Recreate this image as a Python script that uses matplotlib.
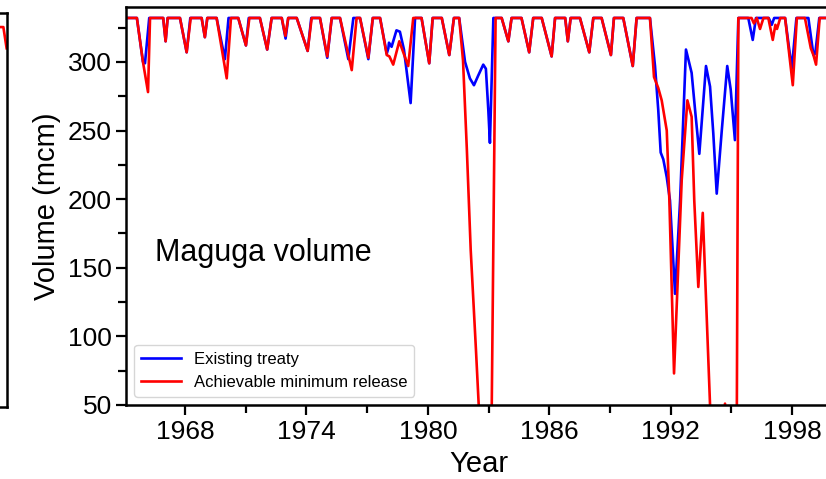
import matplotlib
matplotlib.use("Agg")
import matplotlib.pyplot as plt
from matplotlib.ticker import MultipleLocator

plt.rcParams['font.family'] = ['Liberation Sans', 'DejaVu Sans']

# Existing treaty (blue), volume in mcm
et_year = [1965.08, 1965.62, 1965.92, 1966.02, 1966.23,
           1966.92, 1967.04, 1967.14, 1967.75, 1968.08, 1968.26,
           1968.82, 1968.98, 1969.10, 1969.56, 1969.97, 1970.15,
           1970.63, 1971.01, 1971.15, 1971.70, 1972.06, 1972.28,
           1972.78, 1972.97, 1973.10, 1973.52, 1974.06, 1974.24,
           1974.67, 1975.03, 1975.25, 1975.66, 1976.07, 1976.32,
           1976.65, 1977.06, 1977.28, 1977.64, 1977.97, 1978.05,
           1978.08, 1978.21, 1978.45, 1978.62, 1978.82, 1979.15, 1979.37,
           1979.69, 1980.07, 1980.24, 1980.69, 1981.06, 1981.29,
           1981.55, 1981.84, 1982.08, 1982.28, 1982.49, 1982.74,
           1982.87, 1982.99, 1983.07, 1983.24,
           1983.65, 1983.98, 1984.14, 1984.63, 1985.01, 1985.21,
           1985.63, 1986.12, 1986.29, 1986.79, 1986.92, 1987.06,
           1987.52, 1987.98, 1988.18, 1988.59, 1989.05, 1989.20,
           1989.66, 1990.13, 1990.32,
           1990.98, 1991.23, 1991.39, 1991.51, 1991.64, 1991.81,
           1991.97, 1992.22, 1992.47, 1992.76, 1993.04, 1993.21,
           1993.42, 1993.75, 1993.95, 1994.11, 1994.28, 1994.53,
           1994.80, 1994.97, 1995.18, 1995.35,
           1995.84, 1996.06, 1996.22, 1996.85, 1997.00, 1997.12,
           1997.66, 1997.99, 1998.22, 1998.81, 1999.06, 1999.15,
           1999.35, 2000.00]
et_vol = [332, 332, 300, 299, 332,
          332, 315, 332, 332, 307, 332,
          332, 318, 332, 332, 302, 332,
          332, 312, 332, 332, 309, 332,
          332, 317, 332, 332, 308, 332,
          332, 303, 332, 332, 302, 332,
          332, 302, 332, 332, 306, 310,
          314, 311, 323, 322, 309, 270, 332,
          332, 299, 332, 332, 305, 332,
          332, 300, 288, 283, 290, 298,
          295, 265, 241, 332,
          332, 315, 332, 332, 307, 332,
          332, 304, 332, 332, 315, 332,
          332, 307, 332, 332, 305, 332,
          332, 297, 332,
          332, 297, 265, 234, 229, 216,
          199, 131, 199, 309, 292, 265,
          233, 297, 282, 248, 204, 250,
          297, 280, 243, 332,
          332, 316, 332, 332, 327, 332,
          332, 295, 332, 332, 305, 306,
          332, 332]

# Achievable minimum release (red)
amr_year = [1965.08, 1965.62, 1965.92, 1966.17, 1966.27,
            1966.92, 1967.04, 1967.14, 1967.75, 1968.08, 1968.28,
            1968.82, 1968.98, 1969.10, 1969.56, 1970.06, 1970.27,
            1970.63, 1971.01, 1971.18, 1971.70, 1972.06, 1972.28,
            1972.78, 1972.96, 1973.10, 1973.52, 1974.06, 1974.26,
            1974.67, 1975.03, 1975.25, 1975.66, 1976.24, 1976.48,
            1976.65, 1977.06, 1977.28, 1977.64, 1977.97, 1978.10,
            1978.29, 1978.59, 1979.03, 1979.28,
            1979.69, 1980.07, 1980.24, 1980.69, 1981.06, 1981.29,
            1981.55, 1981.74, 1981.93, 1982.12, 1982.38, 1982.55,
            1982.75, 1983.14, 1983.35,
            1983.65, 1983.98, 1984.14, 1984.63, 1985.01, 1985.21,
            1985.63, 1986.12, 1986.29, 1986.79, 1986.92, 1987.06,
            1987.52, 1987.98, 1988.18, 1988.59, 1989.05, 1989.20,
            1989.66, 1990.13, 1990.32,
            1990.98, 1991.18, 1991.39, 1991.56, 1991.81, 1991.94,
            1992.17, 1992.55, 1992.83, 1993.04, 1993.17, 1993.37,
            1993.59, 1993.95, 1994.10, 1994.55, 1994.69, 1994.80,
            1995.27, 1995.35,
            1996.00, 1996.12, 1996.26, 1996.42, 1996.59,
            1996.83, 1997.05, 1997.18, 1997.26, 1997.42,
            1997.66, 1998.04, 1998.24, 1998.64, 1998.93, 1999.06,
            1999.19, 1999.37, 2000.00]
amr_vol = [332, 332, 300, 278, 332,
           332, 315, 332, 332, 307, 332,
           332, 318, 332, 332, 288, 332,
           332, 312, 332, 332, 309, 332,
           332, 319, 332, 332, 308, 332,
           332, 304, 332, 332, 294, 332,
           332, 303, 332, 332, 305, 304,
           298, 315, 297, 332,
           332, 299, 332, 332, 305, 332,
           332, 301, 236, 163, 90, 40,
           20, 20, 332,
           332, 315, 332, 332, 307, 332,
           332, 304, 332, 332, 315, 332,
           332, 307, 332, 332, 305, 332,
           332, 297, 332,
           332, 289, 281, 272, 250, 199,
           73, 214, 272, 260, 199, 136,
           190, 50, 30, 35, 51, 35,
           30, 332,
           332, 328, 332, 324, 332,
           332, 316, 327, 324, 332,
           332, 283, 332, 332, 310, 305,
           298, 332, 332]

# neighbouring panel, only its right edge is visible
side_year = [1999.0, 1999.83, 2000.0]
side_vol = [329.6, 329.6, 314]

fig = plt.figure(figsize=(8.26, 4.79), dpi=100)

ax0 = fig.add_axes([-0.8, 0.150, 0.808, 0.823])
ax0.plot(side_year, side_vol, color='red', lw=1.9)
ax0.set_xlim(1965, 2000)
ax0.set_ylim(50, 340)
ax0.set_xticks([])
ax0.set_yticks([])
for s in ax0.spines.values():
    s.set_linewidth(1.8)

ax = fig.add_axes([0.1525, 0.1545, 0.8553, 0.8309])
ax.plot(et_year, et_vol, color='blue', lw=1.9, label='Existing treaty')
ax.plot(amr_year, amr_vol, color='red', lw=1.9, label='Achievable minimum release')

ax.set_xlim(1965.08, 2000.0)
ax.set_ylim(50, 340)
ax.xaxis.set_major_locator(MultipleLocator(6))
ax.xaxis.set_minor_locator(MultipleLocator(3))
ax.yaxis.set_major_locator(MultipleLocator(50))
ax.yaxis.set_minor_locator(MultipleLocator(25))
ax.set_xticks([1968, 1974, 1980, 1986, 1992, 1998])

ax.tick_params(which='major', direction='out', length=7, width=1.6,
               labelsize=19, pad=3)
ax.tick_params(which='minor', direction='out', length=5.5, width=1.6)
ax.tick_params(axis='x', which='major', pad=4)
for s in ax.spines.values():
    s.set_linewidth(1.8)

ax.set_xlabel('Year', fontsize=21, labelpad=4)
ax.set_ylabel('Volume (mcm)', fontsize=21, labelpad=5)

ax.text(1966.5, 161, 'Maguga volume', fontsize=22, va='center', ha='left')

ax.legend(loc='lower left', fontsize=12, handlelength=2.4, fancybox=True)

fig.savefig('out.png', dpi=100)
